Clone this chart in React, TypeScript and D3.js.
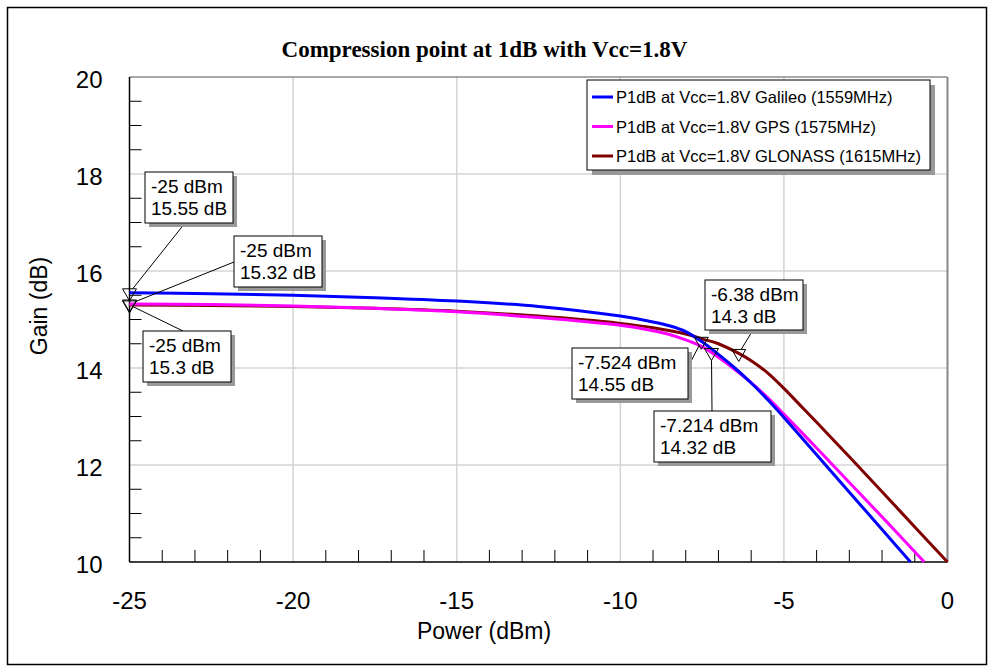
import React from 'react';
import * as d3 from 'd3';

// Input power sweep (dBm) and measured gain (dB) for each band
const powerGalileo = [-25, -22.5, -20, -17.5, -15, -12.5, -10, -9, -8.5, -8, -7.524, -7, -6.5, -6, -5.5, -5, -4, -3, -2, -1.13];
const gainGalileo = [15.55, 15.53, 15.5, 15.45, 15.38, 15.27, 15.07, 14.95, 14.87, 14.75, 14.55, 14.28, 14.0, 13.69, 13.35, 12.98, 12.21, 11.44, 10.67, 10.0];

const powerGPS = [-25, -22.5, -20, -17.5, -15, -12.5, -10, -9, -8.5, -8, -7.5, -7.214, -7, -6.5, -6, -5.5, -5, -4, -3, -2, -0.71];
const gainGPS = [15.32, 15.31, 15.28, 15.23, 15.16, 15.04, 14.88, 14.77, 14.69, 14.58, 14.44, 14.32, 14.22, 13.97, 13.7, 13.39, 13.05, 12.35, 11.64, 10.93, 10.0];

const powerGLONASS = [-25, -22.5, -20, -17.5, -15, -12.5, -10, -9, -8, -7.5, -7, -6.38, -6, -5.5, -5, -4.5, -4, -3, -2, -1, 0];
const gainGLONASS = [15.3, 15.29, 15.27, 15.23, 15.17, 15.07, 14.92, 14.83, 14.7, 14.6, 14.5, 14.3, 14.15, 13.9, 13.58, 13.23, 12.88, 12.17, 11.45, 10.72, 10.0];

const seriesNames = ['P1dB at Vcc=1.8V Galileo (1559MHz)', 'P1dB at Vcc=1.8V GPS (1575MHz)', 'P1dB at Vcc=1.8V GLONASS (1615MHz)'];
const seriesColors = ['#0000ff', '#ff00ff', '#800000'];

// Marker readouts
const markerPower = [-25, -25, -25, -6.38, -7.524, -7.214];
const markerGain = [15.55, 15.32, 15.3, 14.3, 14.55, 14.32];
// Readout box placement: [left, top, width, height, anchorX, anchorY]
const markerBoxes = [
  [145, 172, 88, 51, 185, 223],
  [234, 236, 88, 51, 234, 262],
  [143, 331, 88, 51, 183, 331],
  [705, 280, 98, 50, 753, 330],
  [572, 348, 116, 51, 688, 367],
  [654, 411, 117, 51, 712, 411],
];

const xTicks = [-25, -20, -15, -10, -5, 0];
const yTicks = [10, 12, 14, 16, 18, 20];

const SANS = '"Liberation Sans", Arial, Helvetica, sans-serif';
const SERIF = '"Liberation Serif", "Times New Roman", serif';

const x = d3.scaleLinear().domain([-25, 0]).range([129.5, 947.5]);
const y = d3.scaleLinear().domain([10, 20]).range([562, 77]);

function trianglePts(px: number, py: number): [number, number][] {
  return [[px - 7, py - 4], [px + 7, py - 4], [px, py + 8]];
}

// Shorten a leader line so it stops at the marker outline
function clipToTriangle(sx: number, sy: number, ex: number, ey: number, tri: [number, number][]) {
  let best = 1;
  for (let i = 0; i < 3; i++) {
    const [ax, ay] = tri[i];
    const [bx, by] = tri[(i + 1) % 3];
    const dx = ex - sx, dy = ey - sy;
    const fx = bx - ax, fy = by - ay;
    const den = dx * fy - dy * fx;
    if (Math.abs(den) < 1e-9) continue;
    const t = ((ax - sx) * fy - (ay - sy) * fx) / den;
    const u = ((ax - sx) * dy - (ay - sy) * dx) / den;
    if (t >= 0 && t <= 1 && u >= 0 && u <= 1 && t < best) best = t;
  }
  return [sx + (ex - sx) * best, sy + (ey - sy) * best];
}

export default function App() {
  const line = d3
    .line<[number, number]>()
    .x((d) => x(d[0]))
    .y((d) => y(d[1]))
    .curve(d3.curveCatmullRom.alpha(0.5));

  const series = [
    { p: powerGalileo, g: gainGalileo },
    { p: powerGPS, g: gainGPS },
    { p: powerGLONASS, g: gainGLONASS },
  ];

  const xMinor = d3.range(-24, 0, 1).filter((v) => v % 5 !== 0);
  const yMinor = d3.range(10.5, 20, 0.5).filter((v) => !(Number.isInteger(v) && v % 2 === 0));

  const drawOrder = [2, 1, 0];

  return (
    <svg width={994} height={672} style={{ position: 'absolute', left: 0, top: 0, background: '#fff' }}>
      <rect x={0} y={0} width={994} height={672} fill="#fff" />
      <rect x={7.5} y={7.5} width={979} height={657} fill="none" stroke="#000" strokeWidth={1.5} />

      {/* grid */}
      {xTicks.slice(1, -1).map((v) => (
        <line key={'gx' + v} x1={x(v)} x2={x(v)} y1={y(20)} y2={y(10)} stroke="#d4d4d4" strokeWidth={1.5} />
      ))}
      {yTicks.slice(1, -1).map((v) => (
        <line key={'gy' + v} x1={x(-25)} x2={x(0)} y1={y(v)} y2={y(v)} stroke="#d4d4d4" strokeWidth={1.5} />
      ))}

      {/* plot frame */}
      <line x1={x(-25)} x2={x(0)} y1={y(20)} y2={y(20)} stroke="#555" strokeWidth={1.2} />
      <line x1={x(0)} x2={x(0)} y1={y(20)} y2={y(10)} stroke="#888" strokeWidth={2} />
      <line x1={x(-25)} x2={x(-25)} y1={y(20)} y2={y(10)} stroke="#000" strokeWidth={1.5} />
      <line x1={x(-25)} x2={x(0)} y1={y(10)} y2={y(10)} stroke="#000" strokeWidth={1.5} />

      {/* minor ticks */}
      {xMinor.map((v) => (
        <line key={'mx' + v} x1={x(v)} x2={x(v)} y1={y(10)} y2={y(10) - 12} stroke="#000" strokeWidth={1} />
      ))}
      {yMinor.map((v) => (
        <line key={'my' + v} x1={x(-25)} x2={x(-25) + 12} y1={y(v)} y2={y(v)} stroke="#000" strokeWidth={1} />
      ))}

      {/* tick labels */}
      {xTicks.map((v) => (
        <text key={'xl' + v} x={x(v)} y={609} textAnchor="middle" fontFamily={SANS} fontSize={24} fill="#000">
          {v}
        </text>
      ))}
      {yTicks.map((v) => (
        <text key={'yl' + v} x={102.5} y={y(v) + 11} textAnchor="end" fontFamily={SANS} fontSize={24} fill="#000">
          {v}
        </text>
      ))}

      {/* titles */}
      <text x={484.5} y={57} textAnchor="middle" fontFamily={SERIF} fontWeight="bold" fontSize={23} fill="#000">
        Compression point at 1dB with Vcc=1.8V
      </text>
      <text x={484} y={639} textAnchor="middle" fontFamily={SANS} fontSize={23} fill="#000">
        Power (dBm)
      </text>
      <text
        transform={`translate(47, 306) rotate(-90)`}
        textAnchor="middle"
        fontFamily={SANS}
        fontSize={23}
        fill="#000"
      >
        Gain (dB)
      </text>

      {/* curves */}
      {drawOrder.map((i) => (
        <path
          key={'s' + i}
          d={line(series[i].p.map((p, k) => [p, series[i].g[k]] as [number, number])) || ''}
          fill="none"
          stroke={seriesColors[i]}
          strokeWidth={3}
        />
      ))}

      {/* markers and readouts */}
      {markerPower.map((p, i) => {
        const px = x(p);
        const py = y(markerGain[i]);
        const tri = trianglePts(px, py);
        const [bx, by, bw, bh, ax, ay] = markerBoxes[i];
        const [lx, ly] = clipToTriangle(ax, ay, px, py, tri);
        return (
          <g key={'m' + i}>
            <polygon points={tri.map((t) => t.join(',')).join(' ')} fill="none" stroke="#000" strokeWidth={1} />
            <line x1={ax} y1={ay} x2={lx} y2={ly} stroke="#000" strokeWidth={1} />
            <rect x={bx + 4} y={by + 4} width={bw} height={bh} fill="#999" />
            <rect x={bx} y={by} width={bw} height={bh} fill="#fff" stroke="#000" strokeWidth={1} />
            <text x={bx + 6} y={by + 21} fontFamily={SANS} fontSize={19} fill="#000">
              {`${p} dBm`}
            </text>
            <text x={bx + 6} y={by + 43} fontFamily={SANS} fontSize={19} fill="#000">
              {`${markerGain[i]} dB`}
            </text>
          </g>
        );
      })}

      {/* legend */}
      <rect x={592} y={85} width={343} height={90} fill="#999" />
      <rect x={587} y={80} width={343} height={90} fill="#fff" stroke="#000" strokeWidth={1} />
      {seriesNames.map((name, i) => {
        const cy = 97 + i * 29.5;
        return (
          <g key={'lg' + i}>
            <line x1={592} x2={613} y1={cy} y2={cy} stroke={seriesColors[i]} strokeWidth={3} />
            <text x={616} y={cy + 6} fontFamily={SANS} fontSize={16.5} fill="#000">
              {name}
            </text>
          </g>
        );
      })}
    </svg>
  );
}
